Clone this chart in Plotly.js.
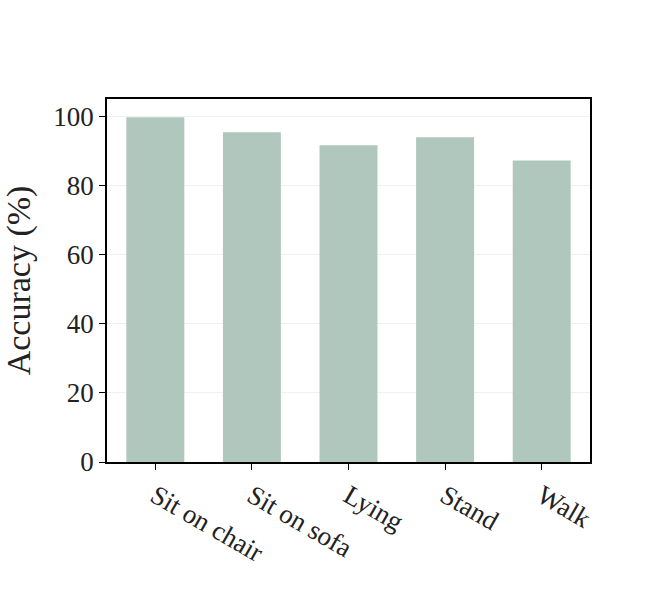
<!DOCTYPE html>
<html><head><script src="https://cdn.plot.ly/plotly-3.0.1.min.js"></script></head>
<body style="margin:0">
<div id="c" style="width:670px;height:590px"></div>
<script>
const categories = ["Sit on chair", "Sit on sofa", "Lying", "Stand", "Walk"];
const accuracy = [99.7, 95.4, 91.6, 93.9, 87.2];
const yTicks = [0, 20, 40, 60, 80, 100];
Plotly.newPlot('c', [{
  type: 'bar', x: categories, y: accuracy,
  marker: {color: '#b0c7be'}, width: 0.6
}], {
  width: 670, height: 590,
  margin: {l: 107, r: 80, t: 99, b: 128},
  paper_bgcolor: 'white', plot_bgcolor: 'white',
  font: {family: 'Liberation Serif, Times New Roman, serif', color: '#222', size: 27},
  xaxis: {tickangle: 30, showline: true, mirror: true, linecolor: 'black', linewidth: 1.5,
    ticks: 'outside', ticklen: 6, tickcolor: 'black', tickfont: {size: 27}},
  yaxis: {range: [0, 105], tickvals: yTicks, showline: true, mirror: true, linecolor: 'black', linewidth: 1.5,
    ticks: 'outside', ticklen: 6, tickcolor: 'black', gridcolor: '#f0f0f0', zeroline: false,
    tickfont: {size: 27}, title: {text: 'Accuracy (%)', font: {size: 34}, standoff: 12}},
  showlegend: false
}, {displayModeBar: false});
</script></body></html>
